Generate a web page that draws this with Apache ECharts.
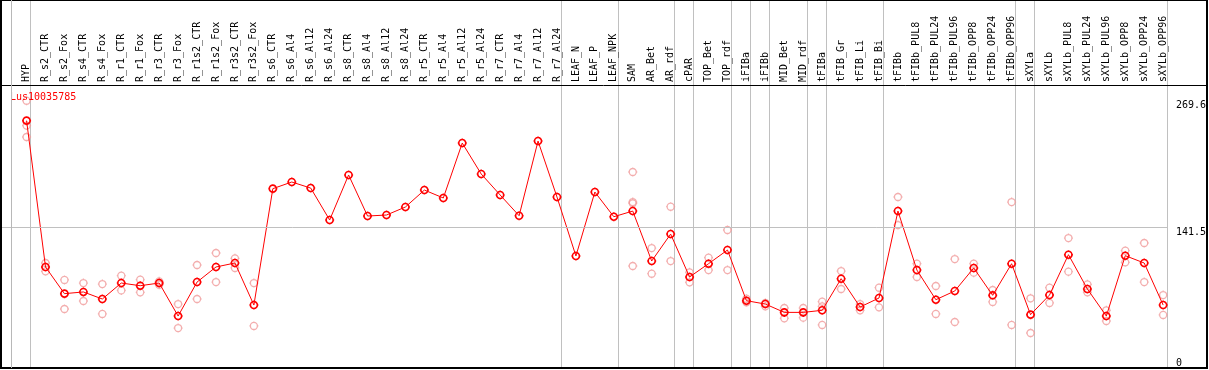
<!DOCTYPE html>
<html><head><meta charset="utf-8">
<script src="https://cdn.jsdelivr.net/npm/echarts@6/dist/echarts.min.js"></script>
<style>html,body{margin:0;padding:0;background:#fff}#c{width:1209px;height:370px}</style>
</head><body><div id="c"></div>
<script>
const geneId = 'Lus10035785';
const categories = ['HYP','R_s2_CTR','R_s2_Fox','R_s4_CTR','R_s4_Fox','R_r1_CTR','R_r1_Fox','R_r3_CTR','R_r3_Fox','R_r1s2_CTR','R_r1s2_Fox','R_r3s2_CTR','R_r3s2_Fox','R_s6_CTR','R_s6_Al4','R_s6_Al12','R_s6_Al24','R_s8_CTR','R_s8_Al4','R_s8_Al12','R_s8_Al24','R_r5_CTR','R_r5_Al4','R_r5_Al12','R_r5_Al24','R_r7_CTR','R_r7_Al4','R_r7_Al12','R_r7_Al24','LEAF_N','LEAF_P','LEAF_NPK','SAM','AR_Bet','AR_rdf','cPAR','TOP_Bet','TOP_rdf','iFIBa','iFIBb','MID_Bet','MID_rdf','tFIBa','tFIB_Gr','tFIB_Li','tFIB_Bi','tFIBb','tFIBb_PUL8','tFIBb_PUL24','tFIBb_PUL96','tFIBb_OPP8','tFIBb_OPP24','tFIBb_OPP96','sXYLa','sXYLb','sXYLb_PUL8','sXYLb_PUL24','sXYLb_PUL96','sXYLb_OPP8','sXYLb_OPP24','sXYLb_OPP96'];
const means = [249.5,101.9,75.0,76.7,69.6,85.7,83.0,85.7,52.4,86.7,101.9,105.9,63.5,180.9,187.6,181.5,149.3,194.7,153.3,154.3,162.4,179.5,171.5,226.9,195.7,174.5,153.6,228.9,172.5,113.0,177.5,152.6,158.3,107.9,135.1,91.8,105.2,119.0,67.9,64.5,56.1,56.1,58.2,90.1,61.5,70.6,158.3,98.8,68.9,77.7,100.9,73.3,105.2,53.8,73.6,114.3,79.7,52.4,113.3,105.9,63.5];
const replicates = [
  [269.6,244.5,233.0],[105.9,97.5],[88.8,59.5],[85.7,67.6],[84.7,54.5],[93.1,78.3],[89.1,76.3],[87.4,84.0],[64.5,40.3],[103.9,69.6],[116.0,86.7],[110.6,100.9],[85.7,42.4],
  [],[],[],[],[],[],[],[],[],[],[],[],[],[],[],[],[],[],[],
  [197.7,167.4,166.1,102.9],[121.0,95.1],[162.7,107.9],[96.5,86.4],[111.3,98.8],[139.2,98.8],[69.9,66.2],[65.6,62.2],[60.5,50.1],[60.5,50.8],[66.9,62.2,43.4],[97.8,79.7],[64.5,58.2],[81.0,61.2],[172.5,144.2],[105.2,91.8],[82.7,54.5],[109.9,46.4],[105.2,96.2],[78.7,66.6],[167.4,43.4],[70.3,35.3],[81.0,65.6],[131.1,97.2],[84.4,76.3],[58.2,47.4],[118.3,106.6],[126.1,86.7],[73.6,53.5]
];
const yTickLabels = [141.5, 269.6];
const yZeroLabel = [0];
const refLine = 141.5;
// index of the last category in each group (-1 = before the first)
const groupEnds = [-1,0,28,31,34,35,37,38,39,41,42,45,52,53,60];

const FONT = 'DejaVu Sans Mono';
const Y_MAX = 371.2;
const X0 = 10;               // category i sits at x = i + X0 on the value axis
const X_MIN = X0 - 1.35, X_MAX = X0 + 60.25;
const sym = 'path://M1.5,5A3.5,3.5,0,1,1,8.5,5A3.5,3.5,0,1,1,1.5,5ZM5,0.5L5,1.5M5,8.5L5,9.5M0.5,5L1.5,5M8.5,5L9.5,5';
const meanData = means.map((v,i)=>[i+X0,v]);
const repData = [];
replicates.forEach((arr,i)=>arr.forEach(v=>repData.push([i+X0,v])));
const posValues = categories.map((c,i)=>i+X0);
const groupLinePos = groupEnds.map(g=>g+X0+0.21);

const chart = echarts.init(document.getElementById('c'), null, {renderer:'canvas'});
chart.setOption({
  animation:false,
  title:{text:geneId,left:5,top:87,textStyle:{color:'#ff0000',fontFamily:FONT,fontSize:10,fontWeight:'normal'}},
  grid:{left:1,right:39,top:0,bottom:2,containLabel:false},
  xAxis:[
    {type:'value',min:X_MIN,max:X_MAX,position:'top',offset:-85,
     axisLine:{show:false},axisTick:{show:false},splitLine:{show:false},
     axisLabel:{customValues:posValues,rotate:90,margin:3,fontFamily:FONT,fontSize:10,color:'#000',
       formatter:v=>categories[Math.round(v)-X0]||''}},
    {type:'value',min:X_MIN,max:X_MAX,position:'bottom',offset:0,
     axisLine:{show:false},splitLine:{show:false},axisLabel:{show:false},
     axisTick:{show:true,inside:true,length:368,customValues:groupLinePos,lineStyle:{color:'#c0c0c0',width:1}}}
  ],
  yAxis:[
    {type:'value',min:0,max:Y_MAX,position:'right',offset:0,
     axisLine:{show:false},axisTick:{show:false},splitLine:{show:false},
     axisLabel:{customValues:yTickLabels,verticalAlign:'top',margin:8,fontFamily:FONT,fontSize:10,color:'#000',formatter:v=>String(v)}},
    {type:'value',min:0,max:Y_MAX,position:'right',offset:0,
     axisLine:{show:false},axisTick:{show:false},splitLine:{show:false},
     axisLabel:{customValues:yZeroLabel,verticalAlign:'bottom',margin:8,fontFamily:FONT,fontSize:10,color:'#000',formatter:v=>String(v)}}
  ],
  graphic:[
    {id:'box',type:'rect',shape:{x:1,y:0,width:1206,height:368},style:{fill:'none',stroke:'#000',lineWidth:2},silent:true,z:100},
    {id:'sep',type:'line',shape:{x1:0,y1:85.5,x2:1207,y2:85.5},style:{stroke:'#000',lineWidth:1},silent:true,z:100}
  ],
  series:[
    {type:'scatter',name:'replicates',data:repData,symbol:sym,symbolSize:9,z:2,
     itemStyle:{color:'none',borderColor:'#f09a9a',borderWidth:1.3},
     markLine:{silent:true,symbol:'none',label:{show:false},animation:false,
       lineStyle:{color:'#c0c0c0',width:1,type:'solid'},
       data:[{yAxis:refLine}]}},
    {type:'line',name:'mean',data:meanData,symbol:sym,symbolSize:9,showAllSymbol:true,z:3,
     lineStyle:{color:'#ff0000',width:1},
     itemStyle:{color:'none',borderColor:'#ff0000',borderWidth:1.6}}
  ]
});
// the leading group separator (before the first category), positioned through the axis scale
let px = chart.convertToPixel({xAxisIndex:1}, groupLinePos[0]);
if (Array.isArray(px)) px = px[0];
if (!isFinite(px)) px = chart.convertToPixel({gridIndex:0}, [groupLinePos[0], 0])[0];
const firstX = Math.round(px) - 0.5;
chart.setOption({graphic:[
  {id:'lead',type:'line',shape:{x1:firstX,y1:0,x2:firstX,y2:368},style:{stroke:'#b8b8b8',lineWidth:1},silent:true,z:150}
]});
</script></body></html>
